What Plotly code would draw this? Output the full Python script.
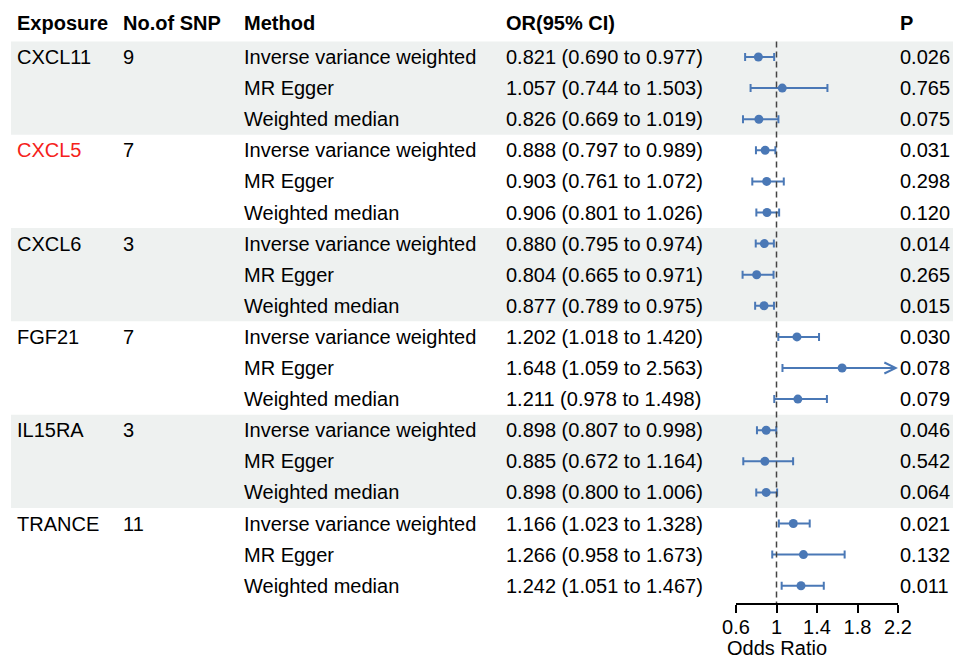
import plotly.graph_objects as go

exposures = ["CXCL11", "CXCL5", "CXCL6", "FGF21", "IL15RA", "TRANCE"]
n_snp = ["9", "7", "3", "7", "3", "11"]
methods = ["Inverse variance weighted", "MR Egger", "Weighted median"]

or_vals = [0.821, 1.057, 0.826,
           0.888, 0.903, 0.906,
           0.880, 0.804, 0.877,
           1.202, 1.648, 1.211,
           0.898, 0.885, 0.898,
           1.166, 1.266, 1.242]
lo_vals = [0.690, 0.744, 0.669,
           0.797, 0.761, 0.801,
           0.795, 0.665, 0.789,
           1.018, 1.059, 0.978,
           0.807, 0.672, 0.800,
           1.023, 0.958, 1.051]
hi_vals = [0.977, 1.503, 1.019,
           0.989, 1.072, 1.026,
           0.974, 0.971, 0.975,
           1.420, 2.563, 1.498,
           0.998, 1.164, 1.006,
           1.328, 1.673, 1.467]
p_vals = ["0.026", "0.765", "0.075",
          "0.031", "0.298", "0.120",
          "0.014", "0.265", "0.015",
          "0.030", "0.078", "0.079",
          "0.046", "0.542", "0.064",
          "0.021", "0.132", "0.011"]
tick_vals = [0.6, 1.0, 1.4, 1.8, 2.2]
tick_text = ["0.6", "1", "1.4", "1.8", "2.2"]
x_min, x_max = 0.6, 2.2

W, H = 953, 658
FONT = "Liberation Sans, Arial, sans-serif"
FS = 20
BLUE = "#4a78b6"
BAND = "#eef1f0"
RED = "#f5221b"

n_rows = len(or_vals)
ys = [-i for i in range(n_rows)]

# pixel geometry
row0_px, row_step = 57.0, 31.1
axis_px = 603.0
y_top = row0_px / row_step
y_bot = -(axis_px - row0_px) / row_step

def px(x):
    return x / W

fig = go.Figure()

plus = [h - o if h <= x_max else 0 for o, h in zip(or_vals, hi_vals)]
minus = [o - l for o, l in zip(or_vals, lo_vals)]

fig.add_trace(go.Scatter(
    x=or_vals, y=ys, mode="markers",
    marker=dict(color=BLUE, size=9),
    error_x=dict(type="data", symmetric=False, array=plus, arrayminus=minus,
                 color=BLUE, thickness=2, width=4),
    showlegend=False, hoverinfo="skip", cliponaxis=False,
))

annotations = []
for i, (o, h) in enumerate(zip(or_vals, hi_vals)):
    if h > x_max:
        annotations.append(dict(
            x=x_max, y=ys[i], xref="x", yref="y",
            ax=o, ay=ys[i], axref="x", ayref="y",
            text="", showarrow=True, arrowhead=5, arrowsize=1.1,
            arrowwidth=2, arrowcolor=BLUE, standoff=0, startstandoff=0,
        ))

shapes = []
for g in range(len(exposures)):
    if g % 2 == 0:
        shapes.append(dict(type="rect", xref="paper", yref="y",
                           x0=px(11), x1=1.0,
                           y0=-(3 * g) + 0.5, y1=-(3 * g + 2) - 0.5,
                           fillcolor=BAND, line=dict(width=0), layer="below"))
shapes.append(dict(type="line", xref="x", yref="y", x0=1, x1=1,
                   y0=0.5, y1=y_bot,
                   line=dict(color="#444444", width=1.5, dash="6px,4px")))

def txt(x_px, y, s, bold=False, color="black"):
    annotations.append(dict(
        x=px(x_px), y=y, xref="paper", yref="y", text=("<b>%s</b>" % s) if bold else s,
        showarrow=False, xanchor="left", yanchor="middle",
        font=dict(family=FONT, size=FS, color=color),
    ))

header_y = (row0_px - 23) / row_step
txt(15, header_y, "Exposure", bold=True)
txt(121, header_y, "No.of SNP", bold=True)
txt(242, header_y, "Method", bold=True)
txt(504, header_y, "OR(95% CI)", bold=True)
txt(898, header_y, "P", bold=True)

for g, (e, n) in enumerate(zip(exposures, n_snp)):
    txt(15, -3 * g, e, color=RED if e == "CXCL5" else "black")
    txt(121, -3 * g, n)
for i in range(n_rows):
    txt(242, ys[i], methods[i % 3])
    txt(504, ys[i], "%.3f (%.3f to %.3f)" % (or_vals[i], lo_vals[i], hi_vals[i]))
    txt(898, ys[i], p_vals[i])

# axis title
annotations.append(dict(
    x=px(777), y=(H - 648) / H, xref="paper", yref="paper", text="Odds Ratio",
    showarrow=False, xanchor="center", yanchor="middle",
    font=dict(family=FONT, size=FS, color="black"),
))

fig.update_layout(
    width=W, height=H,
    margin=dict(l=0, r=0, t=0, b=0),
    paper_bgcolor="white", plot_bgcolor="rgba(0,0,0,0)",
    shapes=shapes, annotations=annotations,
    xaxis=dict(domain=[px(736), px(898)], range=[x_min, x_max],
               tickvals=tick_vals, ticktext=tick_text,
               ticks="outside", ticklen=8, tickwidth=2, tickcolor="black",
               ticklabelstandoff=-3,
               showline=True, linecolor="black", linewidth=2,
               showgrid=False, zeroline=False, automargin=False,
               tickfont=dict(family=FONT, size=FS, color="black")),
    yaxis=dict(domain=[(H - axis_px) / H, 1.0], range=[y_bot, y_top],
               visible=False, showgrid=False, zeroline=False, automargin=False),
)

fig.write_html("out.html", config={"displayModeBar": False},
               post_script="document.body.style.margin='0';document.body.style.overflow='hidden';")
